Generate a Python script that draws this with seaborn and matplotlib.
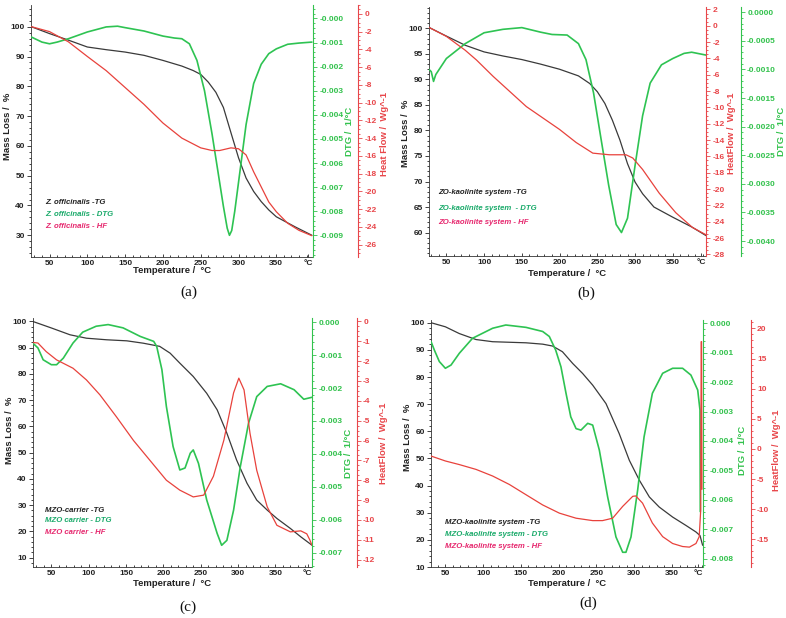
import matplotlib
matplotlib.use("Agg")
import matplotlib.pyplot as plt
import seaborn as sns
from matplotlib.ticker import MultipleLocator, FuncFormatter

sns.set_theme(style="ticks")
plt.rcParams['font.family'] = ['Liberation Sans', 'DejaVu Sans']
plt.rcParams['font.weight'] = 'bold'

W, H = 786, 618

# ---- (a) Z. officinalis ----
a_tg_t = [26, 50, 75, 100, 125, 150, 175, 200, 225, 240, 250, 260, 270, 280, 290, 300, 310, 320, 330, 340, 350, 375, 397]
a_tg = [100, 97.7, 95.5, 93.2, 92.3, 91.5, 90.4, 88.7, 86.8, 85.3, 84.0, 81.4, 78.0, 72.9, 64.4, 56.0, 49.2, 44.7, 41.3, 38.5, 36.2, 32.8, 30.0]
a_dtg_t = [26, 40, 50, 60, 75, 100, 125, 140, 150, 175, 200, 215, 225, 235, 245, 255, 265, 275, 280, 285, 288, 291, 295, 300, 310, 320, 330, 340, 350, 365, 380, 397]
a_dtg = [-0.00077, -0.00098, -0.00105, -0.00098, -0.00084, -0.00056, -0.00035, -0.00032, -0.00038, -0.00052, -0.00073, -0.00081,
         -0.00084, -0.00105, -0.00174, -0.0030, -0.0048, -0.0068, -0.0078, -0.0087, -0.0090, -0.0088, -0.0080, -0.0068, -0.0044,
         -0.0027, -0.0019, -0.00146, -0.00126, -0.00107, -0.00102, -0.00098]
a_hf_t = [26, 50, 75, 100, 125, 150, 175, 200, 225, 250, 265, 275, 290, 300, 310, 320, 330, 340, 350, 365, 380, 397]
a_hf = [-1.44, -2.0, -3.15, -4.8, -6.4, -8.3, -10.2, -12.3, -14.0, -15.1, -15.4, -15.4, -15.1, -15.2, -15.9, -17.8, -19.5, -21.2, -22.3, -23.6, -24.4, -25.0]

# ---- (b) ZO-kaolinite system ----
b_tg_t = [27, 50, 75, 100, 125, 150, 175, 200, 225, 240, 250, 260, 270, 280, 290, 300, 310, 325, 350, 375, 394]
b_tg = [100.2, 98.5, 96.7, 95.4, 94.6, 93.9, 93.0, 92.0, 90.7, 89.2, 87.6, 85.3, 82.0, 78.1, 73.5, 69.9, 67.6, 65.0, 63.0, 61.1, 59.4]
b_dtg_t = [27, 30, 33, 36, 50, 75, 100, 125, 150, 175, 190, 210, 225, 235, 245, 255, 265, 275, 282, 290, 300, 310, 320, 335, 350, 365, 375, 394]
b_dtg = [-0.00100, -0.00104, -0.00121, -0.00109, -0.00081, -0.00055, -0.00036, -0.00030, -0.00027, -0.00035, -0.00039, -0.00040,
         -0.00055, -0.00083, -0.00141, -0.00222, -0.00302, -0.00371, -0.00385, -0.00360, -0.00268, -0.00181, -0.00124, -0.00092,
         -0.00081, -0.00072, -0.00070, -0.00075]
b_hf_t = [27, 50, 75, 90, 112, 156, 200, 222, 244, 266, 288, 297, 310, 332, 354, 376, 394]
b_hf = [-0.2, -1.3, -3.0, -4.2, -6.2, -9.9, -12.7, -14.3, -15.6, -15.8, -15.8, -16.2, -17.6, -20.5, -22.9, -24.7, -25.6]

# ---- (c) MZO carrier ----
c_tg_t = [25, 50, 75, 97, 124, 151, 173, 195, 209, 222, 240, 258, 272, 285, 298, 312, 325, 339, 352, 370, 384, 399]
c_tg = [100, 97.5, 94.9, 93.6, 93.0, 92.6, 91.7, 90.5, 87.9, 84.1, 79.0, 72.6, 66.3, 57.4, 47.2, 38.3, 31.9, 28.1, 24.9, 21.1, 17.9, 14.7]
c_dtg_t = [25, 32, 39, 50, 57, 66, 79, 92, 110, 126, 146, 169, 187, 191, 198, 204, 213, 222, 229, 236, 240, 247, 258, 272, 278,
           285, 294, 303, 314, 325, 339, 357, 375, 388, 399]
c_dtg = [-0.00063, -0.00078, -0.00114, -0.00129, -0.00129, -0.00109, -0.00063, -0.00030, -0.00012, -0.00007, -0.00017, -0.00043,
         -0.00058, -0.00073, -0.00144, -0.00256, -0.00378, -0.00449, -0.00443, -0.00398, -0.00388, -0.00429, -0.00540, -0.00642,
         -0.00678, -0.00663, -0.00571, -0.00439, -0.00307, -0.00226, -0.00195, -0.00187, -0.00205, -0.00234, -0.00228]
c_hf_t = [25, 32, 43, 57, 79, 97, 115, 137, 160, 182, 204, 222, 240, 254, 267, 281, 294, 301, 308, 316, 325, 339, 352, 370, 384, 392, 396, 399]
c_hf = [-1.06, -1.09, -1.52, -1.94, -2.36, -2.95, -3.7, -4.8, -6.0, -7.0, -8.0, -8.5, -8.84, -8.75, -7.8, -5.98, -3.6, -2.86,
        -3.45, -5.64, -7.5, -9.34, -10.27, -10.6, -10.55, -10.7, -11.0, -11.28]

# ---- (d) MZO-kaolinite system ----
d_tg_t = [31, 50, 68.5, 90.6, 112.6, 156.7, 178.8, 192, 205, 218.5, 231.7, 245, 262.6, 280, 293.5, 306.7, 320, 333, 350.8, 368.5, 381.7, 387, 390.5]
d_tg = [100, 98.5, 96.0, 93.8, 93.0, 92.6, 92.1, 91.4, 89.3, 85.0, 81.3, 77.0, 70.2, 59.2, 49.3, 42.0, 35.8, 32.1, 28.4, 25.3, 22.9, 21.6, 18.0]
d_dtg_t = [31, 35.4, 42, 50, 57.5, 68.5, 86, 112.6, 130, 156.7, 178.8, 187.6, 196, 203, 209.7, 216, 223, 229.5, 238.4, 245, 253.8,
           264.8, 275.8, 284.7, 289, 295.7, 304.5, 313, 324, 337.6, 350.8, 364, 375, 384, 387, 387.4]
d_dtg = [-0.00062, -0.00091, -0.00130, -0.00153, -0.00142, -0.00102, -0.00051, -0.00017, -0.00006, -0.00014, -0.00028, -0.00045,
         -0.00091, -0.00148, -0.00238, -0.00318, -0.00358, -0.00363, -0.00340, -0.00346, -0.00431, -0.00590, -0.00726, -0.00778,
         -0.00778, -0.00726, -0.00567, -0.00386, -0.00238, -0.00170, -0.00153, -0.00153, -0.00176, -0.00227, -0.00295, -0.00640]
d_hf_t = [31, 50, 68.5, 90.6, 112.6, 134.7, 156.7, 178.8, 200.9, 223, 245, 258, 271.4, 284.7, 298, 302, 311, 324, 337.6, 350.8,
          364, 373, 381.7, 386, 388, 388.6, 389.1, 389.6]
d_hf = [-1.18, -2.0, -2.6, -3.4, -4.5, -5.9, -7.6, -9.3, -10.66, -11.5, -11.9, -11.9, -11.5, -9.54, -7.87, -7.8, -9.0, -12.3,
        -14.56, -15.7, -16.2, -16.3, -15.7, -14.56, -10.1, 17.8, 17.8, -6.7]

legends = [
    ["Z. officinalis -TG", "Z. officinalis - DTG", "Z. officinalis - HF"],
    ["ZO-kaolinite system -TG", "ZO-kaolinite system  - DTG", "ZO-kaolinite system - HF"],
    ["MZO-carrier -TG", "MZO carrier - DTG", "MZO carrier - HF"],
    ["MZO-kaolinite system -TG", "MZO-kaolinite system - DTG", "MZO-kaolinite system - HF"],
]
captions = ["(a)", "(b)", "(c)", "(d)"]

C_TG, C_DTG, C_HF = '#3a3a3a', '#2ec352', '#e8423c'
C_GAX, C_RAX = '#33c24d', '#e8464a'
C_LEG = ['#222222', '#1aaa6a', '#e6286e']
TICK_FS = 6.0
LAB_FS = 6.8

panels = [
    dict(tg=(a_tg_t, a_tg), dtg=(a_dtg_t, a_dtg), hf=(a_hf_t, a_hf),
         box=(31, 5, 313, 257), xlim=(25.5, 398.5),
         ml=(22.7, 107.3, 10, 2), dt=(-0.0099, 0.00056, 0.001, 0.0002, 3, "-0.000"),
         hfa=(-27.4, 1.0, 2, 0.5), outer='hf', off=1.16,
         ml_lab=(-0.085, 0.52), in_lab=(1.13, 0.50), out_lab=(1.255, 0.49),
         in_text="DTG /  1/°C", out_text="Heat Flow /  Wg^-1",
         leg=(45, [202, 214, 226]), cap=(189, 292), xl_y=271),
    dict(tg=(b_tg_t, b_tg), dtg=(b_dtg_t, b_dtg), hf=(b_hf_t, b_hf),
         box=(429, 7, 706, 256), xlim=(27, 394),
         ml=(55.4, 104.2, 5, 1), dt=(-0.00426, 0.00009, 0.0005, 0.0001, 4, "0.0000"),
         hfa=(-28.2, 2.3, 2, 0.5), outer='dtg', off=1.126,
         ml_lab=(-0.085, 0.494), in_lab=(1.092, 0.494), out_lab=(1.272, 0.50),
         in_text="HeatFlow /  Wg^-1", out_text="DTG /  1/°C",
         leg=(438, [193, 208, 222]), cap=(586, 293), xl_y=273),
    dict(tg=(c_tg_t, c_tg), dtg=(c_dtg_t, c_dtg), hf=(c_hf_t, c_hf),
         box=(33, 318, 312, 567), xlim=(25.4, 399),
         ml=(6.4, 101.3, 10, 2), dt=(-0.00744, 0.00013, 0.001, 0.0002, 3, "0.000"),
         hfa=(-12.37, 0.17, 1, 0.25), outer='hf', off=1.161,
         ml_lab=(-0.085, 0.55), in_lab=(1.13, 0.458), out_lab=(1.255, 0.498),
         in_text="DTG /  1/°C", out_text="HeatFlow /  Wg^-1",
         leg=(45, [510, 521, 532]), cap=(188, 607), xl_y=584),
    dict(tg=(d_tg_t, d_tg), dtg=(d_dtg_t, d_dtg), hf=(d_hf_t, d_hf),
         box=(431, 320, 703, 567), xlim=(31, 391),
         ml=(10, 101, 10, 2), dt=(-0.00828, 0.00011, 0.001, 0.0002, 3, "0.000"),
         hfa=(-19.6, 21.4, 5, 1), outer='hf', off=1.176,
         ml_lab=(-0.088, 0.526), in_lab=(1.145, 0.474), out_lab=(1.272, 0.474),
         in_text="DTG /  1/°C", out_text="HeatFlow /  Wg^-1",
         leg=(445, [522, 535, 547]), cap=(588, 603), xl_y=583),
]

fig = plt.figure(figsize=(W / 100, H / 100), dpi=100)


def style_axis(a, color):
    a.tick_params(axis='y', which='both', colors=color, labelsize=TICK_FS, width=0.6, pad=1.5)
    a.tick_params(axis='y', which='major', length=3)
    a.tick_params(axis='y', which='minor', length=1.5)


for i, p in enumerate(panels):
    l, t, r, b = p['box']
    ax = fig.add_axes([l / W, 1 - b / H, (r - l) / W, (b - t) / H])
    ax.set_facecolor('none')

    sns.lineplot(x=p['tg'][0], y=p['tg'][1], ax=ax, color=C_TG, lw=0.9, sort=False, estimator=None)
    ax.set_xlim(*p['xlim'])
    ax.set_ylim(p['ml'][0], p['ml'][1])
    ax.yaxis.set_major_locator(MultipleLocator(p['ml'][2]))
    ax.yaxis.set_minor_locator(MultipleLocator(p['ml'][3]))
    ax.yaxis.set_major_formatter(FuncFormatter(lambda v, pos: f"{v:.0f}"))
    xt = [50, 100, 150, 200, 250, 300, 350, p['xlim'][1] - 6]
    ax.set_xticks(xt)
    ax.set_xticklabels(["50", "100", "150", "200", "250", "300", "350", "°C"])
    ax.xaxis.set_minor_locator(MultipleLocator(10))
    ax.tick_params(axis='x', which='both', labelsize=TICK_FS, width=0.6, direction='in', pad=2, colors='#222222')
    ax.tick_params(axis='x', which='major', length=2.5)
    ax.tick_params(axis='x', which='minor', length=1.5)
    style_axis(ax, '#222222')
    ax.set_xlabel("")
    ax.set_ylabel("")
    for s in ('top', 'right'):
        ax.spines[s].set_visible(False)
    for s in ('left', 'bottom'):
        ax.spines[s].set_linewidth(0.6)
        ax.spines[s].set_color('#333333')

    ax_dtg = ax.twinx()
    ax_hf = ax.twinx()
    sns.lineplot(x=p['dtg'][0], y=p['dtg'][1], ax=ax_dtg, color=C_DTG, lw=1.2, sort=False, estimator=None)
    sns.lineplot(x=p['hf'][0], y=p['hf'][1], ax=ax_hf, color=C_HF, lw=0.9, sort=False, estimator=None)

    lo, hi, maj, mnr, dec, zero = p['dt']
    ax_dtg.set_ylim(lo, hi)
    ax_dtg.yaxis.set_major_locator(MultipleLocator(maj))
    ax_dtg.yaxis.set_minor_locator(MultipleLocator(mnr))
    ax_dtg.yaxis.set_major_formatter(FuncFormatter(
        lambda v, pos, d=dec, z=zero: z if abs(v) < 1e-9 else f"{v:.{d}f}"))
    ax_hf.set_ylim(p['hfa'][0], p['hfa'][1])
    ax_hf.yaxis.set_major_locator(MultipleLocator(p['hfa'][2]))
    ax_hf.yaxis.set_minor_locator(MultipleLocator(p['hfa'][3]))
    ax_hf.yaxis.set_major_formatter(FuncFormatter(lambda v, pos: f"{v:.0f}"))

    for a, col in ((ax_dtg, C_GAX), (ax_hf, C_RAX)):
        a.set_ylabel("")
        for s in ('top', 'left', 'bottom'):
            a.spines[s].set_visible(False)
        a.spines['right'].set_color(col)
        a.spines['right'].set_linewidth(0.8)
        style_axis(a, col)

    outer = ax_hf if p['outer'] == 'hf' else ax_dtg
    inner = ax_dtg if p['outer'] == 'hf' else ax_hf
    outer.spines['right'].set_position(('axes', p['off']))
    in_col = C_GAX if inner is ax_dtg else C_RAX
    out_col = C_RAX if outer is ax_hf else C_GAX

    # axis titles
    ax.text(p['ml_lab'][0], p['ml_lab'][1], "Mass Loss /  %", transform=ax.transAxes, rotation=90,
            ha='center', va='center', fontsize=LAB_FS, color='#222222')
    ax.text(p['in_lab'][0], p['in_lab'][1], p['in_text'], transform=ax.transAxes, rotation=90,
            ha='center', va='center', fontsize=LAB_FS, color=in_col)
    ax.text(p['out_lab'][0], p['out_lab'][1], p['out_text'], transform=ax.transAxes, rotation=90,
            ha='center', va='center', fontsize=LAB_FS, color=out_col)
    fig.text((l + r) / 2 / W, 1 - p['xl_y'] / H, "Temperature /  °C", ha='center', va='center',
             fontsize=LAB_FS, color='#222222')

    # in-plot legend texts
    lx, lys = p['leg']
    for txt, ly, col in zip(legends[i], lys, C_LEG):
        fig.text(lx / W, 1 - ly / H, txt, ha='left', va='center', fontsize=5.6,
                 style='italic', color=col)

    fig.text(p['cap'][0] / W, 1 - p['cap'][1] / H, captions[i], ha='center', va='center',
             fontsize=11, family=['Liberation Serif', 'DejaVu Serif'], weight='normal', color='#111111')

fig.savefig("out.png", dpi=100)
